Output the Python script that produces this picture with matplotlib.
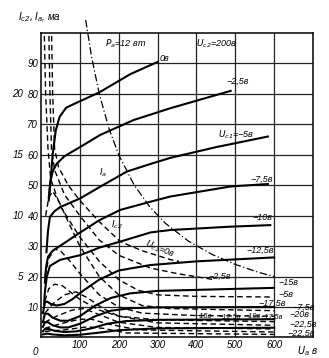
import matplotlib.pyplot as plt
import numpy as np

# anode current Ia (ma) vs anode voltage Ua (v), one curve per grid voltage Uc1
ia_curves = {
    "0":     ([20, 25, 30, 38, 48, 65, 90, 150, 230, 300],
              [45, 52, 60, 68, 72.5, 75.5, 77, 80.5, 86.5, 90.5]),
    "-2.5":  ([20, 24, 30, 40, 60, 100, 152, 238, 333, 420, 488],
              [46, 51, 54.5, 57, 59.5, 62.5, 66.5, 71.4, 75.3, 78.5, 81]),
    "-5":    ([14, 18, 23, 35, 49, 101, 152, 221, 282, 333, 450, 584],
              [28, 35, 39.6, 41.5, 42.8, 45.7, 49.5, 54.5, 57, 59, 62.5, 66]),
    "-7.5":  ([10, 13, 18, 30, 60, 101, 150, 204, 282, 333, 488, 584],
              [18, 23, 26.5, 28.5, 31, 34.5, 38.5, 41.9, 44.6, 46.3, 49.6, 50.4]),
    "-10":   ([8, 10, 15, 23, 49, 100, 150, 204, 282, 333, 488, 590],
              [11, 15, 20, 23.5, 25.5, 27, 29.5, 31.5, 34.5, 35.3, 36.4, 36.9]),
    "-12.5": ([5, 10, 16, 25, 40, 60, 80, 110, 150, 200, 282, 400, 600],
              [8, 11.5, 11.8, 11, 10.5, 11, 12.5, 15.5, 19, 22, 23.8, 25, 26.3]),
    "-15":   ([5, 10, 18, 30, 50, 70, 100, 140, 180, 230, 300, 600],
              [5, 7.8, 7.8, 6.5, 5.5, 5.5, 7, 10.5, 13, 14.5, 15.3, 16.3]),
    "-17.5": ([5, 10, 18, 30, 50, 70, 100, 140, 180, 230, 300, 600],
              [3.5, 5, 5, 4, 3.3, 3.3, 4.5, 7, 8.8, 9.6, 9.9, 10]),
    "-20":   ([5, 10, 20, 35, 60, 90, 130, 170, 220, 300, 600],
              [2, 2.8, 2.8, 2.2, 1.8, 2, 3, 4.5, 5.4, 5.8, 6]),
    "-22.5": ([5, 15, 30, 60, 100, 150, 200, 300, 600],
              [1, 1.3, 1, 0.7, 0.9, 1.6, 2.4, 3, 3.2]),
}

# screen current Ic2, given in units of the Ia scale (Ic2 scale is 1/4)
ic2_curves = {
    "0":     ([27, 30, 35, 45, 70, 100, 150, 204, 260, 335, 355],
              [102, 80, 62, 56, 50, 45, 38, 31.5, 28.5, 25.5, 25]),
    "-2.5":  ([20, 23, 27, 35, 60, 100, 150, 200, 282, 350, 445],
              [102, 80, 62, 55, 47, 40, 32, 27, 22.8, 21, 19]),
    "-5":    ([8, 12, 18, 25, 50, 100, 150, 200, 250, 300, 400, 590],
              [102, 80, 62, 52, 43, 33, 25, 19, 15.5, 14, 13.5, 13.3]),
    "-7.5":  ([12, 20, 30, 45, 70, 100, 150, 200, 260, 330, 600],
              [40, 46, 48, 45, 38, 30, 20, 14, 10.5, 9.5, 8.8]),
    "-10":   ([10, 20, 35, 50, 75, 100, 150, 200, 260, 400, 600],
              [20, 26, 29, 28.5, 25, 21, 14, 10, 8, 7.2, 7]),
    "-12.5": ([10, 20, 35, 55, 75, 100, 150, 200, 300, 600],
              [12, 16, 17.5, 17, 15, 12.5, 9, 7, 5.8, 5.2]),
    "-15":   ([10, 30, 60, 90, 120, 160, 200, 300, 600],
              [8, 11, 14, 15, 13, 9.5, 7, 4.8, 4]),
    "-17.5": ([10, 40, 80, 110, 150, 200, 300, 600],
              [5, 7, 9, 9.5, 7.5, 5, 3.3, 2.8]),
    "-20":   ([10, 50, 100, 130, 170, 250, 600],
              [3, 4.5, 6, 6, 4.5, 2.5, 1.8]),
    "-22.5": ([10, 60, 120, 160, 220, 600],
              [2, 2.5, 3.5, 3, 1.5, 1]),
}

# Pa = 12 W limit
pa_ua = [115, 130, 150, 175, 200, 240, 280, 320, 380, 440, 500, 560, 600]
pa_ia = [104.3, 92.3, 80, 68.6, 60, 50, 42.9, 37.5, 31.6, 27.3, 24, 21.4, 20]

ia_ticks = [10, 20, 30, 40, 50, 60, 70, 80, 90]
ic2_ticks = [5, 10, 15, 20]
ua_ticks = [100, 200, 300, 400, 500, 600]

plt.rcParams['font.family'] = ['Liberation Sans', 'DejaVu Sans']
plt.rcParams['font.style'] = 'italic'

fig = plt.figure(figsize=(3.29, 3.58), dpi=100)
ax = fig.add_axes([0.1246, 0.0573, 0.8268, 0.8505])
ax.set_xlim(0, 700)
ax.set_ylim(0, 100)

for v in ua_ticks:
    ax.axvline(v, color='#222222', lw=0.9, zorder=1)
for v in ia_ticks:
    ax.axhline(v, color='#222222', lw=0.9, zorder=1)

for k, (u, i) in ia_curves.items():
    ax.plot(u, i, color='black', lw=1.5, zorder=3)
for k, (u, i) in ic2_curves.items():
    ax.plot(u, i, color='black', lw=1.0, ls=(0, (4, 2.5)), zorder=3, clip_on=True)
ax.plot(pa_ua, pa_ia, color='black', lw=0.9, ls=(0, (6, 2, 1, 2)), zorder=3, clip_on=False)

for s in ax.spines.values():
    s.set_linewidth(1.1)

ax.set_xticks(ua_ticks)
ax.set_xticklabels([str(v) for v in ua_ticks], fontsize=7)
ax.set_yticks(ia_ticks)
ax.set_yticklabels([str(v) for v in ia_ticks], fontsize=7)
ax.tick_params(length=0, pad=2)
for t in ic2_ticks:
    ax.text(-0.065, t * 4, str(t), transform=ax.get_yaxis_transform(),
            ha='right', va='center', fontsize=7)
ax.text(-0.01, -0.03, "0", transform=ax.transAxes, ha='right', va='top', fontsize=7)
ax.text(660, -2.2, r"$U_a$ в", ha='left', va='top', fontsize=7)
ax.text(-0.085, 1.03, r"$I_{c2}, I_a$, ма", transform=ax.transAxes,
        ha='left', va='bottom', fontsize=7)

fs = 6.5
labels = [
    (305, 91.5, "0в"), (478, 84, "−2,5в"), (455, 66.5, r"$U_{c1}$=−5в"),
    (540, 52, "−7,5в"), (545, 39.5, "−10в"), (528, 28.7, "−12,5в"),
    (612, 17.9, "−15в"), (612, 14, "−5в"), (560, 11.3, "−17,5в"),
    (648, 10, "−7,5в"), (640, 7.4, "−20в"), (640, 4.4, "−22,5в"),
    (635, 1.5, "−22,5в"), (432, 20, "−2,5в"),
    (150, 54, r"$I_a$"), (180, 37, r"$I_{c2}$"),
    (165, 96.5, r"$P_a$=12 вт"), (400, 96.5, r"$U_{c2}$=200в"),
]
for x, y, s in labels:
    ax.text(x, y, s, fontsize=fs, ha='left', va='center', zorder=4)
# small labels of the lower screen-current curves
for x, s in [(398, "−15в"), (458, "−12,5в"), (524, "−10в"), (566, "−17,5в")]:
    ax.text(x, 7, s, fontsize=5.3, ha='left', va='center', zorder=4)
ax.text(262, 29, r"$U_{c1}$=0в", fontsize=fs, rotation=-22, ha='left', va='center')

fig.savefig("out.png", dpi=100)
